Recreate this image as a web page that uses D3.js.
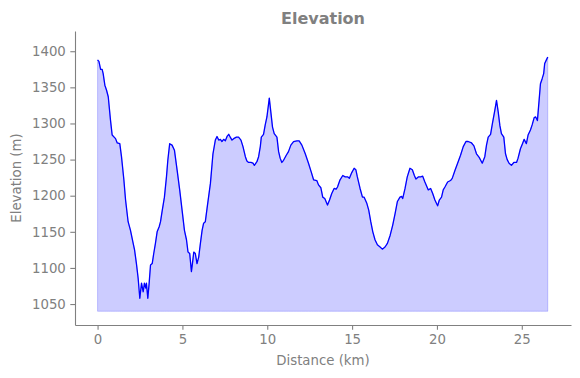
<!DOCTYPE html>
<html>
<head>
<meta charset="utf-8">
<script src="https://cdnjs.cloudflare.com/ajax/libs/d3/7.8.5/d3.min.js"></script>
<style>
  body { margin: 0; background: #fff; }
  text { font-family: "DejaVu Sans", sans-serif; }
</style>
</head>
<body>
<svg id="chart" width="580" height="378"></svg>
<script>
// distance (km) and elevation (m)
const distance = [0, 0.08, 0.18, 0.27, 0.33, 0.43, 0.53, 0.63, 0.76, 0.86, 1.06, 1.16, 1.31, 1.41, 1.55, 1.65, 1.80, 1.94, 2.08, 2.18, 2.29, 2.39, 2.49, 2.59, 2.69, 2.76, 2.84, 2.88, 2.96, 3.04, 3.12, 3.22, 3.31, 3.41, 3.51, 3.63, 3.71, 3.80, 3.94, 4.06, 4.14, 4.25, 4.39, 4.53, 4.69, 4.84, 4.98, 5.12, 5.24, 5.33, 5.43, 5.53, 5.59, 5.67, 5.76, 5.86, 5.96, 6.06, 6.16, 6.25, 6.35, 6.45, 6.65, 6.80, 6.94, 7.04, 7.14, 7.24, 7.33, 7.43, 7.53, 7.63, 7.73, 7.82, 7.92, 8.02, 8.18, 8.31, 8.45, 8.57, 8.71, 8.80, 8.90, 9.04, 9.16, 9.24, 9.39, 9.49, 9.59, 9.65, 9.78, 9.88, 9.98, 10.12, 10.22, 10.31, 10.41, 10.57, 10.67, 10.76, 10.86, 10.96, 11.12, 11.25, 11.39, 11.55, 11.75, 11.88, 12.04, 12.24, 12.43, 12.59, 12.73, 12.92, 13.02, 13.16, 13.27, 13.39, 13.55, 13.67, 13.80, 13.94, 14.06, 14.14, 14.29, 14.45, 14.59, 14.75, 14.84, 14.98, 15.12, 15.22, 15.31, 15.47, 15.61, 15.71, 15.86, 15.98, 16.10, 16.22, 16.35, 16.49, 16.65, 16.78, 16.94, 17.08, 17.24, 17.39, 17.53, 17.67, 17.82, 17.92, 17.98, 18.12, 18.25, 18.41, 18.55, 18.67, 18.76, 18.90, 19.04, 19.16, 19.29, 19.49, 19.63, 19.75, 19.88, 20.04, 20.14, 20.27, 20.37, 20.47, 20.63, 20.80, 20.90, 21.06, 21.25, 21.39, 21.55, 21.71, 21.84, 22.04, 22.18, 22.33, 22.49, 22.67, 22.82, 22.92, 23.02, 23.16, 23.27, 23.41, 23.51, 23.61, 23.71, 23.80, 23.94, 24.04, 24.14, 24.25, 24.39, 24.53, 24.69, 24.78, 24.92, 25.04, 25.14, 25.27, 25.37, 25.51, 25.61, 25.73, 25.82, 25.92, 26.02, 26.10, 26.20, 26.29, 26.35, 26.45, 26.53];
const elevation = [1388, 1386, 1375, 1375, 1369, 1353, 1346, 1337, 1305, 1284, 1279, 1273, 1272, 1254, 1222, 1194, 1164, 1152, 1136, 1125, 1106, 1086, 1058, 1079, 1067, 1079, 1072, 1079, 1058, 1079, 1104, 1106, 1120, 1134, 1150, 1157, 1164, 1178, 1198, 1226, 1249, 1272, 1270, 1263, 1235, 1208, 1180, 1152, 1139, 1122, 1120, 1095, 1106, 1122, 1120, 1106, 1115, 1134, 1152, 1162, 1164, 1182, 1217, 1258, 1277, 1282, 1277, 1278, 1275, 1278, 1276, 1282, 1285, 1281, 1277, 1279, 1281, 1281, 1277, 1268, 1254, 1248, 1246, 1246, 1245, 1242, 1247, 1254, 1268, 1281, 1285, 1298, 1309, 1335, 1314, 1295, 1286, 1281, 1261, 1252, 1246, 1249, 1256, 1261, 1270, 1275, 1276, 1276, 1270, 1258, 1245, 1233, 1222, 1221, 1215, 1211, 1198, 1196, 1187, 1194, 1203, 1210, 1209, 1212, 1222, 1228, 1226, 1226, 1224, 1232, 1238, 1236, 1226, 1210, 1198, 1198, 1190, 1180, 1164, 1150, 1139, 1132, 1129, 1126, 1129, 1134, 1145, 1159, 1175, 1192, 1198, 1199, 1196, 1210, 1226, 1238, 1236, 1228, 1223, 1226, 1226, 1227, 1219, 1208, 1210, 1203, 1194, 1186, 1194, 1198, 1208, 1212, 1219, 1221, 1224, 1235, 1247, 1256, 1268, 1275, 1275, 1273, 1269, 1258, 1253, 1245, 1254, 1270, 1281, 1285, 1300, 1318, 1332, 1316, 1297, 1286, 1281, 1258, 1250, 1245, 1242, 1246, 1246, 1252, 1265, 1272, 1278, 1272, 1284, 1291, 1298, 1308, 1309, 1304, 1332, 1355, 1362, 1369, 1383, 1388, 1392];
const baseElevation = 1040;
const xTicks = [0, 5, 10, 15, 20, 25];
const yTicks = [1050, 1100, 1150, 1200, 1250, 1300, 1350, 1400];

const grey = "#808080";
const margin = {left: 75, right: 9, top: 31, bottom: 53};
const width = 580 - margin.left - margin.right;
const height = 378 - margin.top - margin.bottom;

const points = distance.map((d, i) => ({d: d, e: elevation[i]}));

const x = d3.scaleLinear().domain([-1.33, 27.9]).range([0, width]);
const y = d3.scaleLinear().domain([1021, 1428]).range([height, 0]);

const svg = d3.select("#chart");
const g = svg.append("g").attr("transform", `translate(${margin.left},${margin.top})`);

// filled area down to the base level
g.append("path")
  .datum(points)
  .attr("fill", "blue")
  .attr("fill-opacity", 0.2)
  .attr("stroke", "blue")
  .attr("stroke-opacity", 0.2)
  .attr("stroke-width", 1)
  .attr("d", d3.area().x(p => x(p.d)).y0(y(baseElevation)).y1(p => y(p.e)));

g.append("path")
  .datum(points)
  .attr("fill", "none")
  .attr("stroke", "blue")
  .attr("stroke-width", 1.3)
  .attr("stroke-linejoin", "round")
  .attr("d", d3.line().x(p => x(p.d)).y(p => y(p.e)));

// axes
const xAxis = g.append("g")
  .attr("transform", `translate(0,${height})`)
  .call(d3.axisBottom(x).tickValues(xTicks).tickFormat(d3.format("d"))
    .tickSizeInner(4.7).tickSizeOuter(0).tickPadding(4.5));
const yAxis = g.append("g")
  .call(d3.axisLeft(y).tickValues(yTicks).tickFormat(d3.format("d"))
    .tickSizeInner(4.7).tickSizeOuter(0).tickPadding(4.5));

[xAxis, yAxis].forEach(a => {
  a.select(".domain").attr("stroke", grey).attr("stroke-width", 1.1);
  a.selectAll(".tick line").attr("stroke", grey).attr("stroke-width", 1.1);
  a.selectAll(".tick text").attr("fill", grey).style("font-size", "13.3px")
    .style("font-family", "DejaVu Sans, sans-serif");
});

// labels
svg.append("text")
  .attr("x", margin.left + width / 2)
  .attr("y", 365)
  .attr("text-anchor", "middle")
  .attr("fill", grey)
  .style("font-size", "13.3px")
  .text("Distance (km)");

svg.append("text")
  .attr("transform", `translate(21,${margin.top + height / 2}) rotate(-90)`)
  .attr("text-anchor", "middle")
  .attr("fill", grey)
  .style("font-size", "13.3px")
  .text("Elevation (m)");

svg.append("text")
  .attr("x", margin.left + width / 2)
  .attr("y", 24)
  .attr("text-anchor", "middle")
  .attr("fill", grey)
  .style("font-size", "16px")
  .style("font-weight", "bold")
  .text("Elevation");
</script>
</body>
</html>
